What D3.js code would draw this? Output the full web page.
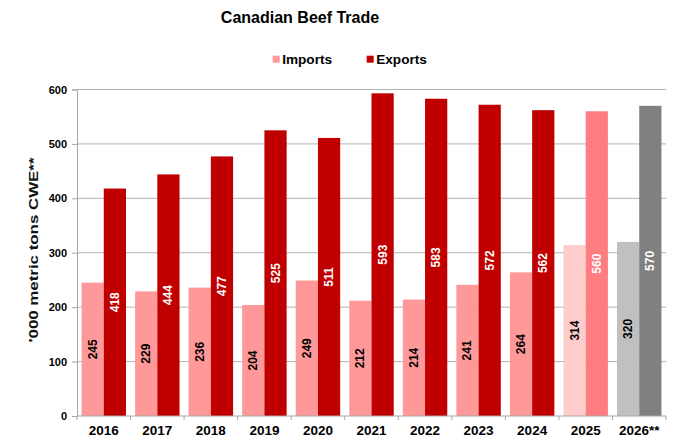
<!DOCTYPE html>
<html>
<head>
<meta charset="utf-8">
<script src="https://cdn.jsdelivr.net/npm/d3@7"></script>
<style>
  body { margin: 0; background: #fff; }
  svg { display: block; font-family: "Liberation Sans", Arial, sans-serif; }
</style>
</head>
<body>
<svg id="chart" width="675" height="437"></svg>
<script>
// ---- data ----
const years = ["2016","2017","2018","2019","2020","2021","2022","2023","2024","2025","2026**"];
const imports = [245, 229, 236, 204, 249, 212, 214, 241, 264, 314, 320];
const exports_ = [418, 444, 477, 525, 511, 593, 583, 572, 562, 560, 570];
const status = ["actual","actual","actual","actual","actual","actual","actual","actual","actual","forecast","projection"];
const yTicks = [0, 100, 200, 300, 400, 500, 600];
const seriesNames = ["Imports", "Exports"];

// ---- styles ----
const palette = {
  Imports: { actual: "#FF9999", forecast: "#FFCCCC", projection: "#C0C0C0" },
  Exports: { actual: "#C00000", forecast: "#FF7C80", projection: "#808080" }
};
const labelColor = { Imports: "#000", Exports: "#fff" };

const svg = d3.select("#chart");
const mLeft = 77, mRight = 666, mTop = 89.5, mBottom = 416;

const x = d3.scaleBand().domain(years).range([mLeft, mRight]).paddingInner(0.17).paddingOuter(0.085);
const x1 = d3.scaleBand().domain(seriesNames).range([0, x.bandwidth()]);
const y = d3.scaleLinear().domain([0, 600]).range([mBottom, mTop]);

// title
svg.append("text").attr("x", 300).attr("y", 23).attr("text-anchor", "middle")
  .attr("font-size", 16).attr("font-weight", "bold").attr("fill", "#000")
  .text("Canadian Beef Trade");

// legend
const legendX = [272.7, 366.7];
seriesNames.forEach((s, i) => {
  const g = svg.append("g").attr("transform", `translate(${legendX[i]},0)`);
  g.append("rect").attr("x", 0).attr("y", 55.7).attr("width", 7).attr("height", 7)
    .attr("fill", palette[s].actual);
  g.append("text").attr("x", 9.5).attr("y", 63.5).attr("font-size", 13.6)
    .attr("font-weight", "bold").attr("fill", "#000").text(s);
});

// gridlines
svg.append("g").selectAll("line").data(yTicks.filter(d => d > 0)).join("line")
  .attr("x1", mLeft).attr("x2", mRight)
  .attr("y1", d => y(d)).attr("y2", d => y(d))
  .attr("stroke", "#b3b3b3").attr("stroke-width", 1);

// y axis
const yAxis = svg.append("g").attr("transform", `translate(${mLeft},0)`)
  .call(d3.axisLeft(y).tickValues(yTicks).tickSize(5).tickPadding(5).tickFormat(d3.format("d")));
yAxis.select(".domain").attr("stroke", "#a6a6a6");
yAxis.selectAll(".tick line").attr("stroke", "#a6a6a6");
yAxis.selectAll(".tick text").attr("font-size", 11).attr("font-weight", "bold")
  .attr("fill", "#000").attr("font-family", "'Liberation Sans', Arial, sans-serif");

// y label
svg.append("text")
  .attr("transform", "translate(38,250) rotate(-90)")
  .attr("text-anchor", "middle").attr("font-size", 12.5).attr("font-weight", "bold")
  .attr("fill", "#111")
  .attr("textLength", 185).attr("lengthAdjust", "spacingAndGlyphs")
  .text("'000 metric tons CWE**");

// bars
const rows = years.map((yr, i) => ({ year: yr, status: status[i], Imports: imports[i], Exports: exports_[i] }));
const groups = svg.append("g").selectAll("g").data(rows).join("g")
  .attr("transform", d => `translate(${x(d.year)},0)`);

groups.selectAll("rect").data(d => seriesNames.map(s => ({ s, v: d[s], status: d.status }))).join("rect")
  .attr("x", d => x1(d.s)).attr("width", x1.bandwidth())
  .attr("y", d => y(d.v)).attr("height", d => y(0) - y(d.v))
  .attr("fill", d => palette[d.s][d.status]);

groups.selectAll("text").data(d => seriesNames.map(s => ({ s, v: d[s] }))).join("text")
  .attr("transform", d => `translate(${x1(d.s) + x1.bandwidth() / 2},${(y(d.v) + y(0)) / 2}) rotate(-90)`)
  .attr("text-anchor", "middle").attr("dominant-baseline", "central")
  .attr("font-size", 12).attr("font-weight", "bold")
  .attr("fill", d => labelColor[d.s])
  .text(d => d.v);

// x axis
const step = x.step();
const x0 = x.range()[0];
const boundaries = d3.range(years.length + 1).map(i => x0 + i * step);
svg.append("line").attr("x1", mLeft).attr("x2", mRight).attr("y1", mBottom).attr("y2", mBottom)
  .attr("stroke", "#a6a6a6");
svg.append("g").selectAll("line").data(boundaries).join("line")
  .attr("x1", d => d).attr("x2", d => d).attr("y1", mBottom).attr("y2", mBottom + 4)
  .attr("stroke", "#a6a6a6");
svg.append("g").selectAll("text").data(years).join("text")
  .attr("x", d => x(d) + x.bandwidth() / 2).attr("y", 435)
  .attr("text-anchor", "middle").attr("font-size", 13.5).attr("font-weight", "bold")
  .attr("fill", "#000").text(d => d);
</script>
</body>
</html>
